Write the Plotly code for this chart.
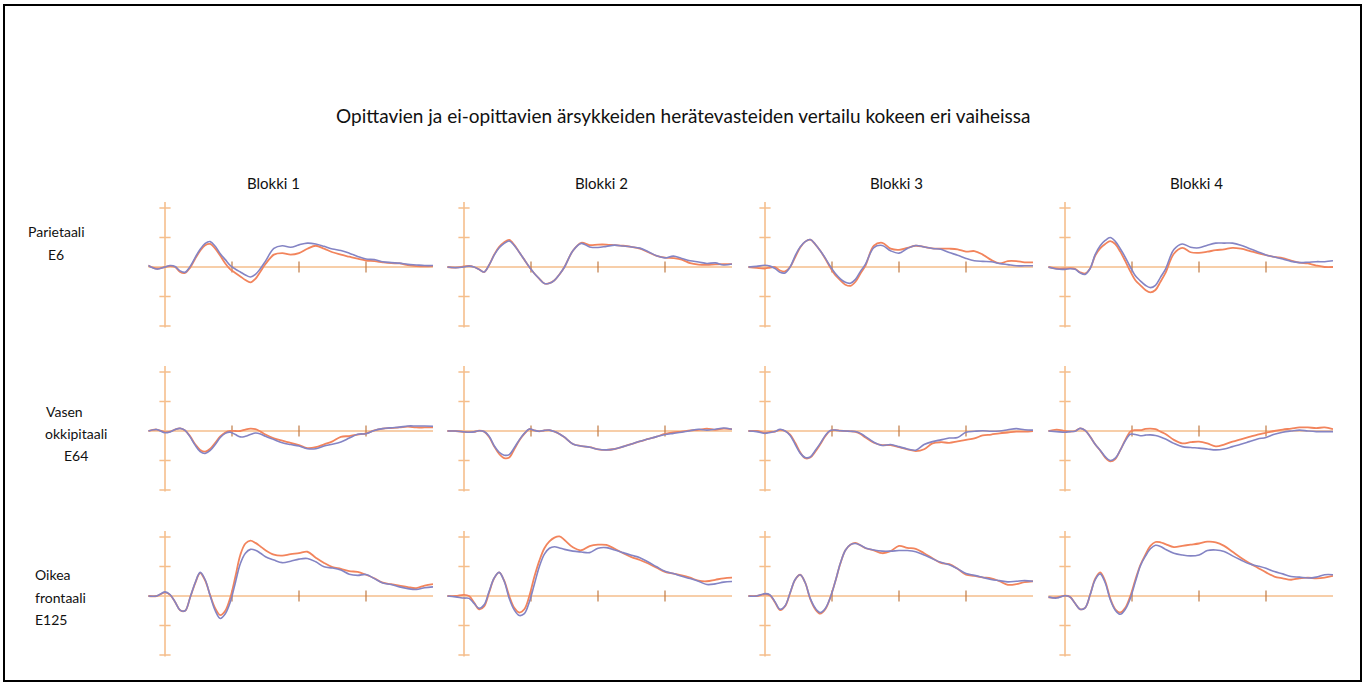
import plotly.graph_objects as go

# Time points (ms) shared by every waveform
TIME_MS = [-50, -25, 0, 15, 30, 45, 60, 75, 90, 105, 120, 135, 150, 165, 180, 195,
           210, 225, 240, 255, 270, 285, 300, 325, 350, 375, 400, 425, 450, 475,
           500, 525, 550, 575, 600, 625, 650, 675, 700, 725, 750, 775, 800]

BLOCKS = ["Blokki 1", "Blokki 2", "Blokki 3", "Blokki 4"]
CHANNELS = [["Parietaali", "E6"], ["Vasen", "okkipitaali", "E64"], ["Oikea", "frontaali", "E125"]]
TITLE = "Opittavien ja ei-opittavien ärsykkeiden herätevasteiden vertailu kokeen eri vaiheissa"

X_TICKS = [200, 400, 600]
Y_TICKS = [-2, -1, 1, 2]

# Parietaali E6 (blue = ei-opittava, orange = opittava)
E6_B1_BLUE = [0.05, -0.07, 0.0, 0.05, 0.02, -0.13, -0.18, 0.02, 0.32, 0.6, 0.8, 0.86, 0.7, 0.45, 0.25, 0.05, -0.07, -0.17, -0.27, -0.34, -0.25, -0.05, 0.2, 0.63, 0.72, 0.67, 0.75, 0.81, 0.78, 0.7, 0.61, 0.56, 0.47, 0.36, 0.27, 0.25, 0.18, 0.15, 0.13, 0.09, 0.07, 0.05, 0.05]
E6_B1_ORANGE = [0.05, -0.05, 0.0, 0.03, 0.0, -0.17, -0.2, -0.02, 0.28, 0.55, 0.74, 0.78, 0.62, 0.38, 0.12, -0.08, -0.2, -0.32, -0.44, -0.52, -0.4, -0.15, 0.1, 0.42, 0.47, 0.42, 0.47, 0.62, 0.72, 0.62, 0.5, 0.42, 0.35, 0.28, 0.22, 0.2, 0.16, 0.13, 0.12, 0.06, 0.03, 0.02, 0.03]
E6_B2_BLUE = [0.0, -0.02, 0.0, 0.03, 0.0, -0.08, -0.17, 0.07, 0.4, 0.65, 0.8, 0.88, 0.73, 0.5, 0.25, 0.0, -0.22, -0.4, -0.56, -0.55, -0.45, -0.25, 0.0, 0.55, 0.8, 0.68, 0.66, 0.7, 0.74, 0.71, 0.68, 0.64, 0.52, 0.38, 0.31, 0.37, 0.29, 0.21, 0.17, 0.12, 0.14, 0.07, 0.1]
E6_B2_ORANGE = [0.0, -0.02, 0.02, 0.04, 0.0, -0.08, -0.17, 0.07, 0.42, 0.68, 0.84, 0.92, 0.75, 0.5, 0.25, 0.0, -0.22, -0.4, -0.56, -0.55, -0.45, -0.25, 0.0, 0.55, 0.82, 0.74, 0.76, 0.76, 0.74, 0.72, 0.68, 0.62, 0.5, 0.38, 0.32, 0.3, 0.25, 0.13, 0.08, 0.07, 0.09, 0.1, 0.1]
E6_B3_BLUE = [0.0, 0.02, 0.06, 0.03, -0.05, -0.18, -0.2, 0.0, 0.38, 0.68, 0.86, 0.93, 0.77, 0.55, 0.3, 0.02, -0.22, -0.4, -0.52, -0.55, -0.42, -0.15, 0.1, 0.66, 0.73, 0.55, 0.47, 0.63, 0.73, 0.68, 0.63, 0.6, 0.49, 0.4, 0.29, 0.21, 0.19, 0.18, 0.12, 0.08, 0.04, 0.04, 0.04]
E6_B3_ORANGE = [0.0, -0.03, -0.05, -0.02, 0.0, -0.12, -0.15, 0.0, 0.33, 0.66, 0.86, 0.93, 0.77, 0.55, 0.28, -0.02, -0.28, -0.45, -0.6, -0.64, -0.5, -0.22, 0.05, 0.72, 0.82, 0.62, 0.58, 0.65, 0.72, 0.68, 0.63, 0.62, 0.62, 0.6, 0.52, 0.54, 0.42, 0.24, 0.12, 0.2, 0.2, 0.16, 0.16]
E6_B4_BLUE = [0.0, -0.07, -0.08, -0.06, -0.08, -0.2, -0.25, -0.05, 0.42, 0.72, 0.9, 1.0, 0.87, 0.62, 0.33, 0.0, -0.3, -0.47, -0.62, -0.7, -0.62, -0.35, -0.07, 0.59, 0.78, 0.67, 0.65, 0.74, 0.81, 0.81, 0.81, 0.74, 0.63, 0.52, 0.41, 0.34, 0.27, 0.19, 0.15, 0.16, 0.18, 0.18, 0.21]
E6_B4_ORANGE = [0.0, -0.05, -0.05, -0.04, -0.06, -0.18, -0.22, -0.05, 0.38, 0.63, 0.78, 0.88, 0.78, 0.52, 0.2, -0.15, -0.45, -0.62, -0.78, -0.86, -0.78, -0.5, -0.2, 0.45, 0.65, 0.5, 0.48, 0.52, 0.57, 0.6, 0.65, 0.62, 0.55, 0.47, 0.4, 0.34, 0.3, 0.22, 0.15, 0.12, 0.05, 0.0, 0.0]

# Vasen okkipitaali E64
E64_B1_BLUE = [0.0, 0.05, -0.06, -0.03, 0.05, 0.09, 0.02, -0.2, -0.48, -0.7, -0.76, -0.66, -0.46, -0.22, -0.08, -0.04, -0.12, -0.2, -0.18, -0.12, -0.07, -0.1, -0.18, -0.29, -0.4, -0.46, -0.51, -0.6, -0.6, -0.51, -0.45, -0.37, -0.24, -0.11, -0.09, 0.02, 0.08, 0.11, 0.13, 0.17, 0.17, 0.17, 0.16]
E64_B1_ORANGE = [0.0, 0.05, -0.04, -0.02, 0.05, 0.09, 0.02, -0.18, -0.45, -0.64, -0.7, -0.6, -0.4, -0.18, -0.05, 0.0, 0.0, 0.0, 0.05, 0.08, 0.06, -0.02, -0.12, -0.25, -0.33, -0.4, -0.48, -0.58, -0.55, -0.45, -0.35, -0.2, -0.17, -0.12, -0.08, 0.02, 0.08, 0.1, 0.12, 0.15, 0.12, 0.12, 0.12]
E64_B2_BLUE = [0.0, 0.0, -0.03, -0.04, -0.03, 0.01, -0.02, -0.18, -0.5, -0.72, -0.82, -0.8, -0.57, -0.3, -0.08, 0.07, 0.02, -0.01, 0.02, 0.03, -0.02, -0.1, -0.21, -0.44, -0.51, -0.55, -0.62, -0.64, -0.61, -0.53, -0.44, -0.35, -0.27, -0.19, -0.12, -0.08, -0.04, 0.01, 0.06, 0.03, 0.06, 0.1, 0.06]
E64_B2_ORANGE = [0.0, 0.0, -0.03, -0.04, -0.03, 0.01, -0.02, -0.2, -0.52, -0.78, -0.92, -0.9, -0.62, -0.32, -0.1, 0.06, 0.02, -0.01, 0.02, 0.03, -0.02, -0.1, -0.21, -0.44, -0.51, -0.55, -0.62, -0.64, -0.61, -0.53, -0.44, -0.35, -0.27, -0.19, -0.1, -0.05, -0.02, 0.02, 0.04, 0.08, 0.04, 0.08, 0.06]
E64_B3_BLUE = [0.0, -0.02, -0.08, -0.05, -0.02, 0.06, 0.0, -0.15, -0.45, -0.75, -0.9, -0.88, -0.66, -0.42, -0.15, 0.02, 0.03, 0.01, 0.0, -0.01, -0.02, -0.08, -0.19, -0.38, -0.49, -0.46, -0.53, -0.61, -0.65, -0.46, -0.36, -0.3, -0.24, -0.22, -0.04, -0.01, 0.01, -0.01, 0.0, 0.04, 0.08, 0.04, 0.03]
E64_B3_ORANGE = [0.0, 0.0, -0.06, -0.03, -0.02, 0.04, 0.0, -0.12, -0.4, -0.72, -0.92, -0.9, -0.7, -0.45, -0.18, 0.01, 0.03, 0.01, 0.0, -0.01, -0.03, -0.1, -0.22, -0.4, -0.48, -0.48, -0.55, -0.62, -0.68, -0.62, -0.42, -0.38, -0.4, -0.35, -0.3, -0.25, -0.15, -0.12, -0.08, -0.05, -0.02, -0.02, 0.0]
E64_B4_BLUE = [0.0, -0.02, -0.04, -0.02, -0.01, 0.09, 0.02, -0.19, -0.45, -0.65, -0.87, -1.0, -0.92, -0.65, -0.33, -0.11, -0.12, -0.16, -0.14, -0.13, -0.15, -0.2, -0.27, -0.42, -0.53, -0.56, -0.58, -0.61, -0.64, -0.61, -0.53, -0.45, -0.36, -0.27, -0.22, -0.11, -0.04, 0.0, 0.03, 0.0, -0.02, -0.02, -0.02]
E64_B4_ORANGE = [0.0, 0.05, 0.0, -0.02, 0.0, 0.09, 0.02, -0.19, -0.45, -0.66, -0.9, -1.03, -0.95, -0.65, -0.3, -0.02, 0.03, 0.03, 0.07, 0.08, 0.06, -0.02, -0.1, -0.3, -0.42, -0.38, -0.36, -0.42, -0.52, -0.46, -0.36, -0.28, -0.2, -0.12, -0.06, 0.0, 0.05, 0.08, 0.12, 0.12, 0.1, 0.12, 0.06]

# Oikea frontaali E125
E125_B1_BLUE = [0.0, 0.0, 0.14, 0.05, -0.2, -0.48, -0.5, -0.05, 0.45, 0.8, 0.55, 0.0, -0.5, -0.76, -0.6, -0.2, 0.45, 1.1, 1.45, 1.58, 1.55, 1.45, 1.33, 1.22, 1.13, 1.18, 1.25, 1.27, 1.16, 0.99, 0.95, 0.88, 0.74, 0.7, 0.73, 0.59, 0.44, 0.39, 0.31, 0.25, 0.22, 0.28, 0.31]
E125_B1_ORANGE = [0.0, 0.0, 0.12, 0.04, -0.2, -0.48, -0.5, -0.05, 0.43, 0.78, 0.52, 0.02, -0.42, -0.65, -0.5, -0.05, 0.65, 1.4, 1.78, 1.88, 1.8, 1.68, 1.55, 1.4, 1.37, 1.42, 1.45, 1.5, 1.3, 1.12, 0.98, 0.92, 0.84, 0.82, 0.72, 0.6, 0.45, 0.4, 0.35, 0.3, 0.27, 0.35, 0.4]
E125_B2_BLUE = [0.0, -0.03, -0.07, -0.08, -0.25, -0.42, -0.3, 0.16, 0.61, 0.8, 0.5, -0.08, -0.47, -0.66, -0.6, -0.2, 0.4, 1.0, 1.42, 1.62, 1.67, 1.63, 1.58, 1.52, 1.49, 1.47, 1.62, 1.64, 1.56, 1.47, 1.38, 1.3, 1.15, 0.99, 0.84, 0.76, 0.67, 0.59, 0.5, 0.39, 0.41, 0.47, 0.49]
E125_B2_ORANGE = [0.0, 0.0, 0.04, 0.0, -0.22, -0.45, -0.35, 0.12, 0.6, 0.8, 0.52, 0.0, -0.4, -0.56, -0.45, 0.0, 0.65, 1.2, 1.62, 1.85, 1.98, 2.02, 1.9, 1.65, 1.55, 1.69, 1.74, 1.73, 1.6, 1.45, 1.32, 1.22, 1.1, 0.96, 0.82, 0.76, 0.7, 0.62, 0.52, 0.5, 0.55, 0.6, 0.62]
E125_B3_BLUE = [0.0, 0.0, 0.08, 0.04, -0.2, -0.45, -0.33, 0.11, 0.56, 0.72, 0.45, -0.08, -0.41, -0.56, -0.42, -0.05, 0.5, 1.11, 1.55, 1.74, 1.78, 1.72, 1.63, 1.56, 1.52, 1.52, 1.54, 1.54, 1.5, 1.39, 1.26, 1.14, 1.06, 0.92, 0.76, 0.7, 0.63, 0.56, 0.52, 0.48, 0.5, 0.52, 0.5]
E125_B3_ORANGE = [0.0, 0.0, 0.06, 0.02, -0.22, -0.48, -0.35, 0.1, 0.55, 0.72, 0.45, -0.1, -0.45, -0.6, -0.45, -0.05, 0.5, 1.1, 1.55, 1.74, 1.8, 1.72, 1.62, 1.55, 1.45, 1.52, 1.7, 1.63, 1.6, 1.45, 1.28, 1.12, 1.08, 0.92, 0.72, 0.68, 0.63, 0.6, 0.5, 0.38, 0.4, 0.47, 0.5]
E125_B4_BLUE = [-0.03, -0.07, 0.01, -0.03, -0.25, -0.45, -0.4, 0.04, 0.55, 0.75, 0.45, -0.12, -0.48, -0.62, -0.45, -0.08, 0.48, 1.02, 1.35, 1.6, 1.72, 1.68, 1.58, 1.45, 1.39, 1.36, 1.39, 1.54, 1.56, 1.51, 1.36, 1.22, 1.09, 1.02, 0.94, 0.83, 0.75, 0.66, 0.64, 0.61, 0.64, 0.72, 0.72]
E125_B4_ORANGE = [-0.05, -0.05, 0.01, -0.03, -0.25, -0.45, -0.4, 0.04, 0.58, 0.8, 0.5, -0.08, -0.45, -0.56, -0.4, 0.0, 0.55, 1.05, 1.4, 1.7, 1.83, 1.82, 1.76, 1.66, 1.7, 1.74, 1.78, 1.84, 1.82, 1.7, 1.5, 1.3, 1.12, 0.96, 0.8, 0.66, 0.6, 0.55, 0.6, 0.62, 0.6, 0.62, 0.68]

BLUE = [[E6_B1_BLUE, E6_B2_BLUE, E6_B3_BLUE, E6_B4_BLUE],
        [E64_B1_BLUE, E64_B2_BLUE, E64_B3_BLUE, E64_B4_BLUE],
        [E125_B1_BLUE, E125_B2_BLUE, E125_B3_BLUE, E125_B4_BLUE]]
ORANGE = [[E6_B1_ORANGE, E6_B2_ORANGE, E6_B3_ORANGE, E6_B4_ORANGE],
          [E64_B1_ORANGE, E64_B2_ORANGE, E64_B3_ORANGE, E64_B4_ORANGE],
          [E125_B1_ORANGE, E125_B2_ORANGE, E125_B3_ORANGE, E125_B4_ORANGE]]

# ---- page geometry (pixels) ----
W, H = 1365, 686
COL_ORIGIN_PX = [165, 464, 765, 1065]   # x pixel of t = 0 in each column
ROW_ZERO_PX = [267, 431, 596]           # y pixel of 0 µV in each row
PX_PER_MS = 0.335
PX_PER_UV = 29.5
T_MIN, T_MAX = -50, 800
Y_HALF = 2.4

AXIS_COLOR = "#F5BE8C"
XTICK_COLOR = "#C07A44"
BLUE_COLOR = "#8484C4"
ORANGE_COLOR = "#F2845C"
FONT = "Lato, 'Open Sans', sans-serif"
TEXT_COLOR = "#111111"

fig = go.Figure()
layout_axes = {}
shapes = []

for r in range(3):
    for c in range(4):
        k = r * 4 + c + 1
        xa = "x" if k == 1 else f"x{k}"
        ya = "y" if k == 1 else f"y{k}"
        x0 = COL_ORIGIN_PX[c]
        x_dom = [(x0 + T_MIN * PX_PER_MS) / W, (x0 + T_MAX * PX_PER_MS) / W]
        z = ROW_ZERO_PX[r]
        y_dom = [1 - (z + Y_HALF * PX_PER_UV) / H, 1 - (z - Y_HALF * PX_PER_UV) / H]
        layout_axes["xaxis" if k == 1 else f"xaxis{k}"] = dict(
            domain=x_dom, range=[T_MIN, T_MAX], visible=False, anchor=ya)
        layout_axes["yaxis" if k == 1 else f"yaxis{k}"] = dict(
            domain=y_dom, range=[-Y_HALF, Y_HALF], visible=False, anchor=xa)

        # zero line across the epoch and the vertical amplitude axis at t = 0
        shapes.append(dict(type="line", xref=xa, yref=ya, x0=T_MIN, x1=T_MAX, y0=0, y1=0,
                           line=dict(color=AXIS_COLOR, width=1.6), layer="below"))
        shapes.append(dict(type="line", xref=xa, yref=ya, x0=0, x1=0, y0=-2.05, y1=2.2,
                           line=dict(color=AXIS_COLOR, width=1.6), layer="below"))

        fig.add_trace(go.Scatter(
            x=[0] * len(Y_TICKS), y=Y_TICKS, xaxis=xa, yaxis=ya, mode="markers",
            marker=dict(symbol="line-ew", size=8, line=dict(color=AXIS_COLOR, width=1.4)),
            hoverinfo="skip", showlegend=False))
        fig.add_trace(go.Scatter(
            x=X_TICKS, y=[0] * len(X_TICKS), xaxis=xa, yaxis=ya, mode="markers",
            marker=dict(symbol="line-ns", size=8, line=dict(color=XTICK_COLOR, width=1.2)),
            hoverinfo="skip", showlegend=False))

        fig.add_trace(go.Scatter(
            x=TIME_MS, y=ORANGE[r][c], xaxis=xa, yaxis=ya, mode="lines",
            line=dict(color=ORANGE_COLOR, width=1.8, shape="spline", smoothing=1.0),
            name="opittava", showlegend=False))
        fig.add_trace(go.Scatter(
            x=TIME_MS, y=BLUE[r][c], xaxis=xa, yaxis=ya, mode="lines",
            line=dict(color=BLUE_COLOR, width=1.6, shape="spline", smoothing=1.0),
            name="ei-opittava", showlegend=False))

annotations = [dict(text=TITLE, x=683 / W, y=1 - 115 / H, xref="paper", yref="paper",
                    xanchor="center", yanchor="middle", showarrow=False,
                    font=dict(family=FONT, size=19, color=TEXT_COLOR))]

BLOCK_CENTER_PX = [273, 601, 896, 1196]
for name, cx in zip(BLOCKS, BLOCK_CENTER_PX):
    annotations.append(dict(text=name, x=cx / W, y=1 - 183 / H, xref="paper", yref="paper",
                            xanchor="center", yanchor="middle", showarrow=False,
                            font=dict(family=FONT, size=15, color=TEXT_COLOR)))

# channel labels, one annotation per text line
LABEL_LINES_PX = [
    [(56, 231, "center"), (56, 254, "center")],
    [(44, 411, "left"), (43, 433, "left"), (62, 455, "left")],
    [(33, 574, "left"), (33, 597, "left"), (33, 619, "left")],
]
for lines, pos in zip(CHANNELS, LABEL_LINES_PX):
    for text, (px, py, anchor) in zip(lines, pos):
        annotations.append(dict(text=text, x=px / W, y=1 - py / H, xref="paper", yref="paper",
                                xanchor=anchor, yanchor="middle", showarrow=False,
                                font=dict(family=FONT, size=14, color=TEXT_COLOR)))

shapes.append(dict(type="rect", xref="paper", yref="paper",
                   x0=4 / W, x1=1361 / W, y0=1 - 681 / H, y1=1 - 5 / H,
                   line=dict(color="#000000", width=2)))

fig.update_layout(width=W, height=H, margin=dict(l=0, r=0, t=0, b=0),
                  paper_bgcolor="white", plot_bgcolor="rgba(0,0,0,0)",
                  annotations=annotations, shapes=shapes, **layout_axes)

fig.write_html("out.html")
